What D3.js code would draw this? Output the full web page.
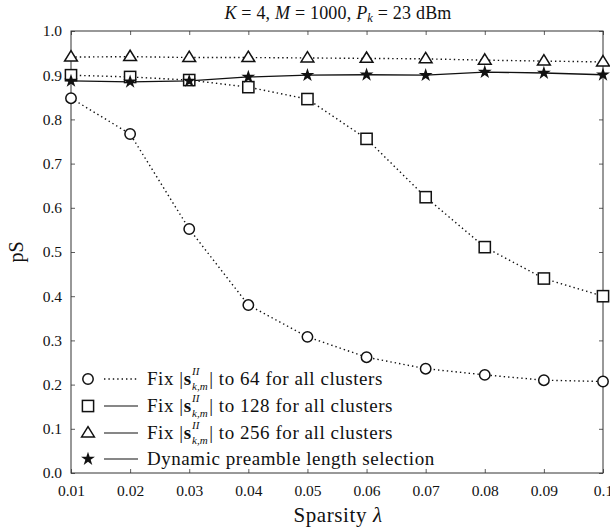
<!DOCTYPE html>
<html>
<head>
<meta charset="utf-8">
<script src="https://cdn.jsdelivr.net/npm/d3@7"></script>
<style>
  html, body { margin: 0; padding: 0; background: #fff; }
  svg { display: block; }
  text { font-family: "Liberation Serif", "DejaVu Serif", serif; fill: #111; }
</style>
</head>
<body>
<svg id="chart" width="610" height="529"></svg>
<script>
// ---- data ----
const sparsity = [0.01, 0.02, 0.03, 0.04, 0.05, 0.06, 0.07, 0.08, 0.09, 0.1];
const fix64  = [0.848, 0.767, 0.552, 0.380, 0.308, 0.262, 0.236, 0.222, 0.210, 0.207];
const fix128 = [0.900, 0.896, 0.889, 0.873, 0.846, 0.756, 0.624, 0.511, 0.440, 0.400];
const fix256 = [0.941, 0.942, 0.940, 0.940, 0.939, 0.938, 0.937, 0.934, 0.932, 0.930];
const dynamic = [0.887, 0.885, 0.887, 0.896, 0.900, 0.901, 0.900, 0.907, 0.905, 0.901];
const xTicks = [0.01, 0.02, 0.03, 0.04, 0.05, 0.06, 0.07, 0.08, 0.09, 0.1];
const xTickLabels = ["0.01", "0.02", "0.03", "0.04", "0.05", "0.06", "0.07", "0.08", "0.09", "0.1"];
const yTicks = [0.0, 0.1, 0.2, 0.3, 0.4, 0.5, 0.6, 0.7, 0.8, 0.9, 1.0];
const yTickLabels = ["0.0", "0.1", "0.2", "0.3", "0.4", "0.5", "0.6", "0.7", "0.8", "0.9", "1.0"];
const legendSizes = ["64", "128", "256"];

const series = [
  { values: fix64,   marker: "circle",   plotDash: true,  legendDash: true },
  { values: fix128,  marker: "square",   plotDash: true,  legendDash: false },
  { values: fix256,  marker: "triangle", plotDash: true,  legendDash: false },
  { values: dynamic, marker: "star",     plotDash: false, legendDash: false }
];

// ---- layout ----
const svg = d3.select("#chart");
const L = 71, R = 603, T = 31, B = 473;
const x = d3.scaleLinear().domain([0.01, 0.1]).range([L, R]);
const y = d3.scaleLinear().domain([0, 1]).range([B, T]);
const ink = "#111";
const frameColor = "#333";
const FS = 15.5;   // tick labels
const LFS = 19;    // legend
const LS = 0.55;   // letter spacing approximating Computer Modern widths

// axes (ticks inside)
const gx = svg.append("g").attr("transform", `translate(0,${B})`)
  .call(d3.axisBottom(x).tickValues(xTicks).tickFormat((d, i) => xTickLabels[i])
    .tickSizeInner(-4).tickSizeOuter(0).tickPadding(12));
const gxt = svg.append("g").attr("transform", `translate(0,${T})`)
  .call(d3.axisTop(x).tickValues(xTicks).tickFormat("").tickSizeInner(-4).tickSizeOuter(0));
const gy = svg.append("g").attr("transform", `translate(${L},0)`)
  .call(d3.axisLeft(y).tickValues(yTicks).tickFormat((d, i) => yTickLabels[i])
    .tickSizeInner(-4).tickSizeOuter(0).tickPadding(9));
const gyr = svg.append("g").attr("transform", `translate(${R},0)`)
  .call(d3.axisRight(y).tickValues(yTicks).tickFormat("").tickSizeInner(-4).tickSizeOuter(0));
[gx, gxt, gy, gyr].forEach(g => {
  g.attr("font-family", null);
  g.select(".domain").remove();
  g.selectAll(".tick line").attr("stroke", frameColor).attr("stroke-width", 0.8);
  g.selectAll(".tick text").attr("font-size", FS).attr("fill", ink);
});

// frame
svg.append("rect").attr("x", L).attr("y", T).attr("width", R - L).attr("height", B - T)
  .attr("fill", "none").attr("stroke", frameColor).attr("stroke-width", 1);

// markers
function drawMarker(g, type, cx, cy) {
  if (type === "circle") {
    g.append("circle").attr("cx", cx).attr("cy", cy).attr("r", 5.2)
      .attr("fill", "#fff").attr("stroke", ink).attr("stroke-width", 1.5);
  } else if (type === "square") {
    g.append("rect").attr("x", cx - 5.6).attr("y", cy - 5.6).attr("width", 11.2).attr("height", 11.2)
      .attr("fill", "#fff").attr("stroke", ink).attr("stroke-width", 1.5);
  } else if (type === "triangle") {
    const s = 6.4;
    g.append("path").attr("d", `M${cx},${cy - s}L${cx + s},${cy + s * 0.62}L${cx - s},${cy + s * 0.62}Z`)
      .attr("fill", "#fff").attr("stroke", ink).attr("stroke-width", 1.5).attr("stroke-linejoin", "miter");
  } else if (type === "star") {
    g.append("path").attr("d", d3.symbol().type(d3.symbolStar).size(60)())
      .attr("transform", `translate(${cx},${cy})`).attr("fill", ink);
  }
}

const line = d3.line().x((d, i) => x(sparsity[i])).y(d => y(d));
series.forEach(s => {
  svg.append("path").datum(s.values).attr("d", line)
    .attr("fill", "none").attr("stroke", ink).attr("stroke-width", s.plotDash ? 1.4 : 1.3)
    .attr("stroke-dasharray", s.plotDash ? "1.4 3" : null);
});
series.forEach(s => {
  const g = svg.append("g");
  s.values.forEach((v, i) => drawMarker(g, s.marker, x(sparsity[i]), y(v)));
});

// title
const title = svg.append("text").attr("y", 19).attr("font-size", 18).attr("text-anchor", "middle")
  .attr("x", (L + R) / 2 + 1).attr("letter-spacing", 0.2);
title.append("tspan").attr("font-style", "italic").text("K");
title.append("tspan").text(" = 4, ");
title.append("tspan").attr("font-style", "italic").text("M");
title.append("tspan").text(" = 1000, ");
title.append("tspan").attr("font-style", "italic").text("P");
title.append("tspan").attr("font-style", "italic").attr("font-size", 12.5).attr("dy", 3).text("k");
title.append("tspan").attr("dy", -3).text(" = 23 dBm");

// axis labels
const xl = svg.append("text").attr("x", (L + R) / 2 + 1).attr("y", 522).attr("text-anchor", "middle")
  .attr("font-size", 21).attr("letter-spacing", 0.6);
xl.append("tspan").text("Sparsity ");
xl.append("tspan").attr("font-style", "italic").text("λ");
svg.append("text").attr("transform", `translate(23,${(T + B) / 2}) rotate(-90)`)
  .attr("text-anchor", "middle").attr("font-size", 20).text("pS");

// legend
const rowY = [379, 406, 433, 459];
function textPiece(g, str, xPos, yPos, opts) {
  const t = g.append("text").attr("x", xPos).attr("y", yPos).attr("font-size", opts.size || LFS)
    .attr("letter-spacing", opts.size ? 0 : LS).text(str);
  if (opts.italic) t.attr("font-style", "italic");
  if (opts.bold) t.attr("font-weight", "bold");
  return t.node().getComputedTextLength();
}
series.forEach((s, i) => {
  const g = svg.append("g");
  const cy = rowY[i];
  drawMarker(g, s.marker, 88, cy);
  g.append("line").attr("x1", 104).attr("x2", 138).attr("y1", cy).attr("y2", cy)
    .attr("stroke", ink).attr("stroke-width", s.legendDash ? 1.4 : 1.1)
    .attr("stroke-dasharray", s.legendDash ? "1.4 3" : null);
  const by = cy + 6;
  let cx = 147;
  if (i < 3) {
    cx += textPiece(g, "Fix |", cx, by, {});
    cx += textPiece(g, "s", cx, by, { bold: true }) + 0.5;
    const w1 = textPiece(g, "II", cx, by - 10, { italic: true, size: 11 });
    const w2 = textPiece(g, "k,m", cx, by + 5, { italic: true, size: 11 });
    cx += Math.max(w1, w2) + 1.5;
    textPiece(g, `| to ${legendSizes[i]} for all clusters`, cx, by, {});
  } else {
    textPiece(g, "Dynamic preamble length selection", cx, by, {});
  }
});
</script>
</body>
</html>
